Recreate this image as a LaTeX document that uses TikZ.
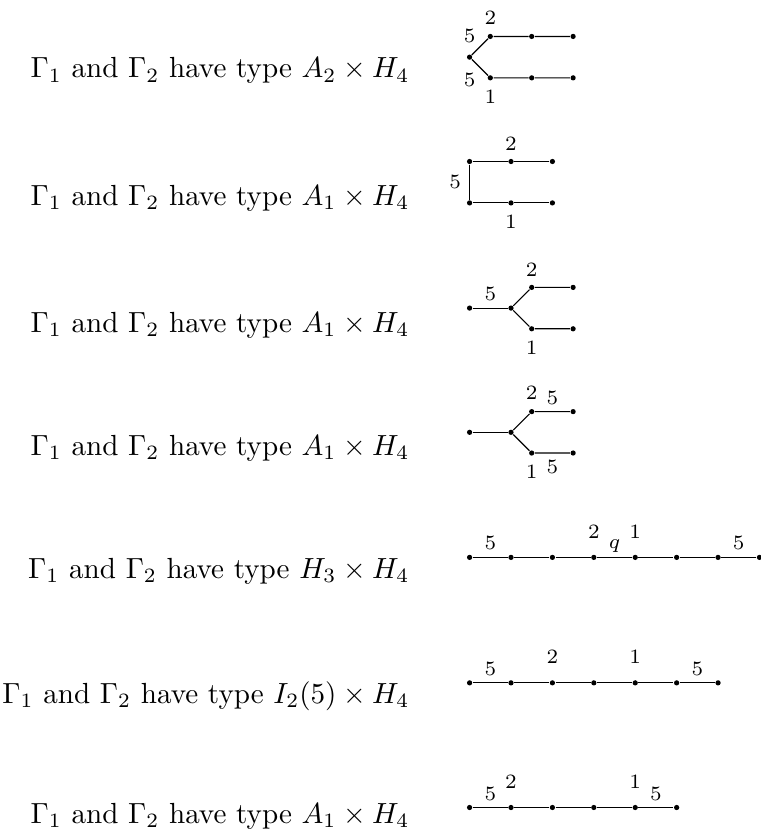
\documentclass[tikz,border=0pt]{standalone}
\usetikzlibrary{positioning}
\tikzset{
  dot/.style={circle, fill=black, inner sep=0pt, minimum size=1.8pt},
  lbl/.style={font=\scriptsize, inner sep=2.2pt},
  typ/.style={anchor=base east, inner sep=0pt},
}

\begin{document}
\begin{tikzpicture}[on grid, node distance=5mm]
    \useasboundingbox (0,0) rectangle (9.18,-10.07);

    % A2 x H4
    \node[typ] (t1) at (4.95,-0.94) {$\Gamma_1$ and $\Gamma_2$ have type $A_2 \times H_4$};
    \node[dot] (a0) at (5.67,-0.69) {};
    \node[dot, above right=2.5mm and 2.5mm of a0] (a1) {};
    \node[dot, right=of a1] (a2) {};
    \node[dot, right=of a2] (a3) {};
    \node[dot, below right=2.5mm and 2.5mm of a0] (a4) {};
    \node[dot, right=of a4] (a5) {};
    \node[dot, right=of a5] (a6) {};
    \draw (a0) -- (a1) -- (a2) -- (a3);
    \draw (a0) -- (a4) -- (a5) -- (a6);
    \node[lbl, above=2.6mm of a0] (a0u) {5};
    \node[lbl, below=2.7mm of a0] (a0d) {5};
    \node[lbl, above=2.2mm of a1] (a1l) {2};
    \node[lbl, below=2.3mm of a4] (a4l) {1};

    % A1 x H4, square
    \node[typ] (t2) at (4.95,-2.48) {$\Gamma_1$ and $\Gamma_2$ have type $A_1 \times H_4$};
    \node[dot] (b1) at (5.67,-1.95) {};
    \node[dot, right=of b1] (b2) {};
    \node[dot, right=of b2] (b3) {};
    \node[dot, below=of b1] (b4) {};
    \node[dot, right=of b4] (b5) {};
    \node[dot, right=of b5] (b6) {};
    \draw (b3) -- (b2) -- (b1) -- node[lbl, left=0.6pt] (b14) {5} (b4) -- (b5) -- (b6);
    \node[lbl, above=2.1mm of b2] (b2l) {2};
    \node[lbl, below=2.3mm of b5] (b5l) {1};

    % A1 x H4, fork with tail
    \node[typ] (t3) at (4.95,-4.01) {$\Gamma_1$ and $\Gamma_2$ have type $A_1 \times H_4$};
    \node[dot] (c0) at (5.67,-3.72) {};
    \node[dot, right=of c0] (c1) {};
    \node[dot, above right=2.5mm and 2.5mm of c1] (c2) {};
    \node[dot, right=of c2] (c3) {};
    \node[dot, below right=2.5mm and 2.5mm of c1] (c4) {};
    \node[dot, right=of c4] (c5) {};
    \draw (c0) -- node[lbl, above] (c01) {5} (c1);
    \draw (c1) -- (c2) -- (c3);
    \draw (c1) -- (c4) -- (c5);
    \node[lbl, above=2.1mm of c2] (c2l) {2};
    \node[lbl, below=2.3mm of c4] (c4l) {1};

    % A1 x H4, fork with two 5s
    \node[typ] (t4) at (4.95,-5.50) {$\Gamma_1$ and $\Gamma_2$ have type $A_1 \times H_4$};
    \node[dot] (d0) at (5.67,-5.22) {};
    \node[dot, right=of d0] (d1) {};
    \node[dot, above right=2.5mm and 2.5mm of d1] (d2) {};
    \node[dot, right=of d2] (d3) {};
    \node[dot, below right=2.5mm and 2.5mm of d1] (d4) {};
    \node[dot, right=of d4] (d5) {};
    \draw (d0) -- (d1);
    \draw (d1) -- (d2) -- node[lbl, above] (d23) {5} (d3);
    \draw (d1) -- (d4) -- node[lbl, below] (d45) {5} (d5);
    \node[lbl, above=2.3mm of d2] (d2l) {2};
    \node[lbl, below=2.3mm of d4] (d4l) {1};

    % H3 x H4
    \node[typ] (t5) at (4.95,-6.98) {$\Gamma_1$ and $\Gamma_2$ have type $H_3 \times H_4$};
    \node[dot] (e1) at (5.67,-6.73) {};
    \foreach \i [count=\j from 2] in {1,...,7}
      \node[dot, right=of e\i] (e\j) {};
    \draw (e1) -- node[lbl, above] (e12) {5} (e2) -- (e3) -- (e4)
      -- node[lbl, above=-0.8pt] (e45) {$q$} (e5) -- (e6) -- (e7)
      -- node[lbl, above] (e78) {5} (e8);
    \node[lbl, above=3.1mm of e4] (e4l) {2};
    \node[lbl, above=3.1mm of e5] (e5l) {1};

    % I2(5) x H4
    \node[typ] (t6) at (4.95,-8.49) {$\Gamma_1$ and $\Gamma_2$ have type $I_2(5) \times H_4$};
    \node[dot] (f1) at (5.67,-8.245) {};
    \foreach \i [count=\j from 2] in {1,...,6}
      \node[dot, right=of f\i] (f\j) {};
    \draw (f1) -- node[lbl, above] (f12) {5} (f2) -- (f3) -- (f4) -- (f5) -- (f6)
      -- node[lbl, above] (f67) {5} (f7);
    \node[lbl, above=3.1mm of f3] (f3l) {2};
    \node[lbl, above=3.1mm of f5] (f5l) {1};

    % A1 x H4, chain
    \node[typ] (t7) at (4.95,-9.94) {$\Gamma_1$ and $\Gamma_2$ have type $A_1 \times H_4$};
    \node[dot] (g1) at (5.67,-9.75) {};
    \foreach \i [count=\j from 2] in {1,...,5}
      \node[dot, right=of g\i] (g\j) {};
    \draw (g1) -- node[lbl, above] (g12) {5} (g2) -- (g3) -- (g4) -- (g5)
      -- node[lbl, above] (g56) {5} (g6);
    \node[lbl, above=3.1mm of g2] (g2l) {2};
    \node[lbl, above=3.1mm of g5] (g5l) {1};
\end{tikzpicture}
\end{document}
